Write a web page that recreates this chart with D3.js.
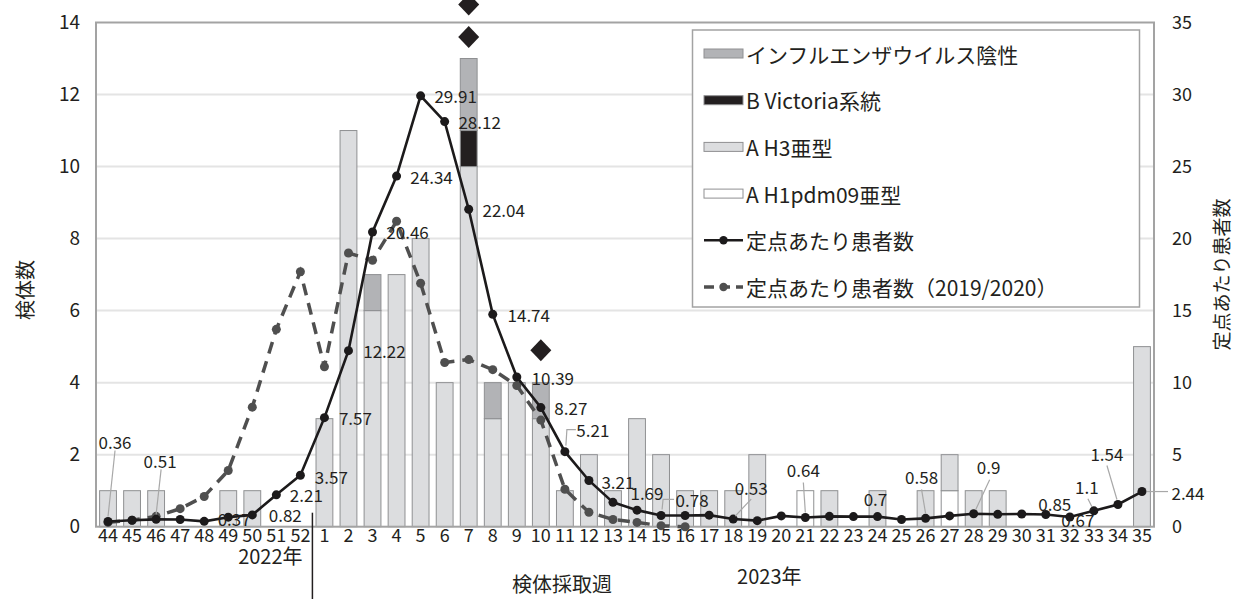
<!DOCTYPE html>
<html><head><meta charset="utf-8">
<script src="https://cdn.jsdelivr.net/npm/d3@7"></script>
<style>
body{margin:0;background:#fff}
svg{display:block}
text{font-family:"Noto Sans CJK JP","Noto Sans",sans-serif;fill:#231f20}
</style>
</head><body>
<svg id="chart" width="1234" height="599"></svg>
<script>
// ---------- data ----------
const weeks = ["44","45","46","47","48","49","50","51","52",
  "1","2","3","4","5","6","7","8","9","10","11","12","13","14","15","16","17","18","19","20",
  "21","22","23","24","25","26","27","28","29","30","31","32","33","34","35"];
const h1pdm09 = [0,0,0,0,0,0,0,0,0,
  0,0,0,0,0,0,0,0,0,0,0,0,0,0,0,0,0,0,0,0,1,0,0,0,0,0,1,0,0,0,0,0,0,0,0];
const h3 = [1,1,1,0,0,1,1,0,0,
  3,11,6,7,8,4,10,3,4,3,1,2,1,3,2,1,1,1,2,0,0,1,0,1,0,1,1,1,1,0,0,0,0,0,5];
const bVictoria = [0,0,0,0,0,0,0,0,0,
  0,0,0,0,0,0,1,0,0,0,0,0,0,0,0,0,0,0,0,0,0,0,0,0,0,0,0,0,0,0,0,0,0,0,0];
const negative = [0,0,0,0,0,0,0,0,0,
  0,0,1,0,0,0,2,1,0,1,0,0,0,0,0,0,0,0,0,0,0,0,0,0,0,0,0,0,0,0,0,0,0,0,0];
const perSite = [0.36,0.45,0.51,0.5,0.37,0.66,0.82,2.21,3.57,
  7.57,12.22,20.46,24.34,29.91,28.12,22.04,14.74,10.39,8.27,5.21,3.21,1.69,1.15,0.78,0.78,0.8,
  0.53,0.42,0.75,0.64,0.72,0.7,0.7,0.5,0.58,0.75,0.9,0.86,0.88,0.85,0.67,1.1,1.54,2.44];
const perSite2019 = [0.3,0.45,0.72,1.25,2.1,3.9,8.3,13.7,17.7,
  11.1,19.0,18.5,21.2,16.9,11.4,11.6,10.9,9.8,7.4,2.6,1.0,0.5,0.3,0.07,0.0,
  null,null,null,null,null,null,null,null,null,null,null,null,null,null,null,null,null,null,null];
const leftTicks = [0,2,4,6,8,10,12,14];
const rightTicks = [0,5,10,15,20,25,30,35];
const diamondWeeks = ["7","7","10"];
const diamondValues = [14.5,13.6,4.9];
const labelWeeks = ["44","46","48","50","51","52","1","2","3","4","5","6","7","8","9","10","11","12","13","15","18","21","24","26","28","31","32","33","34","35"];
const seriesNames = ["インフルエンザウイルス陰性","B Victoria系統","A H3亜型","A H1pdm09亜型","定点あたり患者数","定点あたり患者数（2019/2020）"];

// ---------- label layout (pixel offsets from each point) ----------
const labelLayout = {
  "44":{dx:7,dy:-80,lead:[[7,-71],[0,-5]]},
  "46":{dx:4,dy:-59,lead:[[5,-50],[0,-5]]},
  "48":{dx:30,dy:-3},
  "50":{dx:33,dy:0},
  "51":{dx:30,dy:0},
  "52":{dx:31,dy:1},
  "1":{dx:31,dy:0},
  "2":{dx:36,dy:0},
  "3":{dx:35,dy:0},
  "4":{dx:35,dy:0},
  "5":{dx:35,dy:0},
  "6":{dx:35,dy:0},
  "7":{dx:35,dy:0},
  "8":{dx:36,dy:0},
  "9":{dx:36,dy:0},
  "10":{dx:30,dy:0},
  "11":{dx:28,dy:-22,lead:[[11,-22],[2,-22],[1,-6]]},
  "12":{dx:29,dy:1},
  "13":{dx:34,dy:-10},
  "15":{dx:31,dy:-16,lead:[[13,-16],[2,-16],[1,-6]]},
  "18":{dx:18,dy:-32,lead:[[18,-20],[2,-3]]},
  "21":{dx:-2,dy:-48,lead:[[-2,-35],[0,-5]]},
  "24":{dx:-2,dy:-18},
  "26":{dx:-4,dy:-42,lead:[[-4,-29],[0,-5]]},
  "28":{dx:15,dy:-47,lead:[[16,-34],[2,-4]]},
  "31":{dx:9,dy:-11},
  "32":{dx:8,dy:2},
  "33":{dx:-7,dy:-24,lead:[[-6,-12],[-2,-4]]},
  "34":{dx:-11,dy:-51,lead:[[-11,-39],[-1,-5]]},
  "35":{dx:46,dy:1,lead:[[26,0],[5,0]]}
};

// ---------- layout ----------
const svg = d3.select("#chart");
const L = 96, R = 1154, T = 22.5, B = 526.7;
const x = d3.scaleBand().domain(weeks).range([L, R]).paddingInner(0.3).paddingOuter(0.15);
const yL = d3.scaleLinear().domain([0, 14]).range([B, T]);
const yR = d3.scaleLinear().domain([0, 35]).range([B, T]);
const cx = w => x(w) + x.bandwidth() / 2;

// gridlines
svg.append("g").selectAll("line").data(leftTicks.filter(d => d > 0 && d < 14)).join("line")
  .attr("x1", L).attr("x2", R).attr("y1", d => yL(d)).attr("y2", d => yL(d))
  .attr("stroke", "#e4e4e4").attr("stroke-width", 2);

// stacked bars
const rows = weeks.map((w, i) => ({week: w, h1: h1pdm09[i], h3: h3[i], bv: bVictoria[i], neg: negative[i]}));
const keys = ["h1", "h3", "bv", "neg"];
const fills = {h1: "#ffffff", h3: "#dcdddf", bv: "#231f20", neg: "#b2b3b6"};
const stack = d3.stack().keys(keys)(rows);
svg.append("g").selectAll("g").data(stack).join("g")
  .attr("fill", d => fills[d.key])
  .selectAll("rect").data(d => d.filter(p => p[1] - p[0] > 0)).join("rect")
  .attr("x", d => x(d.data.week)).attr("width", x.bandwidth())
  .attr("y", d => yL(d[1])).attr("height", d => yL(d[0]) - yL(d[1]))
  .attr("stroke", "#8f9092").attr("stroke-width", 1);

// frame
svg.append("rect").attr("x", L).attr("y", T).attr("width", R - L).attr("height", B - T)
  .attr("fill", "none").attr("stroke", "#a3a3a3").attr("stroke-width", 2);

// 2019/2020 dashed line
const pts2019 = weeks.map((w, i) => ({w, v: perSite2019[i]})).filter(d => d.v !== null);
svg.append("path").datum(pts2019)
  .attr("d", d3.line().x(d => cx(d.w)).y(d => yR(d.v)))
  .attr("fill", "none").attr("stroke", "#4f4f4f").attr("stroke-width", 3.5)
  .attr("stroke-dasharray", "12,8");
svg.append("g").selectAll("circle").data(pts2019).join("circle")
  .attr("cx", d => cx(d.w)).attr("cy", d => yR(d.v)).attr("r", 4.5).attr("fill", "#4f4f4f");

// current season line
const pts = weeks.map((w, i) => ({w, v: perSite[i]}));
svg.append("path").datum(pts)
  .attr("d", d3.line().x(d => cx(d.w)).y(d => yR(d.v)))
  .attr("fill", "none").attr("stroke", "#1c1a1b").attr("stroke-width", 2.6);
svg.append("g").selectAll("circle").data(pts).join("circle")
  .attr("cx", d => cx(d.w)).attr("cy", d => yR(d.v)).attr("r", 4.5).attr("fill", "#1c1a1b");

// data labels with leader lines
const labelData = labelWeeks.map(w => ({w, v: perSite[weeks.indexOf(w)], lay: labelLayout[w]}));
svg.append("g").selectAll("polyline").data(labelData.filter(d => d.lay.lead)).join("polyline")
  .attr("points", d => d.lay.lead.map(p => [cx(d.w) + p[0], yR(d.v) + p[1]].join(",")).join(" "))
  .attr("fill", "none").attr("stroke", "#a8a8a8").attr("stroke-width", 1.2);
svg.append("g").selectAll("text").data(labelData).join("text")
  .attr("x", d => cx(d.w) + d.lay.dx).attr("y", d => yR(d.v) + d.lay.dy)
  .attr("text-anchor", "middle").attr("dominant-baseline", "central")
  .attr("font-size", 17).text(d => String(d.v));

// diamonds
svg.append("g").selectAll("path").data(diamondWeeks.map((w, i) => ({w, v: diamondValues[i]}))).join("path")
  .attr("transform", d => `translate(${cx(d.w)},${yL(d.v)})`)
  .attr("d", "M0,-11L10.5,0L0,11L-10.5,0Z").attr("fill", "#231f20");

// axes
const axL = svg.append("g").attr("transform", `translate(${L},0)`)
  .call(d3.axisLeft(yL).tickValues(leftTicks).tickSize(0).tickPadding(16));
const axR = svg.append("g").attr("transform", `translate(${R},0)`)
  .call(d3.axisRight(yR).tickValues(rightTicks).tickSize(0).tickPadding(18));
const axB = svg.append("g").attr("transform", `translate(0,${B})`)
  .call(d3.axisBottom(x).tickSize(0).tickPadding(3));
[axL, axR, axB].forEach(a => {
  a.select(".domain").remove();
  a.selectAll("text").attr("font-family", '"Noto Sans CJK JP","Noto Sans",sans-serif').attr("fill", "#231f20");
});
axL.selectAll("text").attr("font-size", 19);
axR.selectAll("text").attr("font-size", 18);
axB.selectAll("text").attr("font-size", 18);

// year separator
const sepX = x("1") - (x.step() - x.bandwidth()) / 2;
svg.append("line").attr("x1", sepX).attr("x2", sepX).attr("y1", B - 14).attr("y2", 599)
  .attr("stroke", "#231f20").attr("stroke-width", 1.5);

// axis titles
svg.append("text").attr("x", cx("51") - 6).attr("y", 555).attr("text-anchor", "middle")
  .attr("dominant-baseline", "central").attr("font-size", 20).text("2022年");
svg.append("text").attr("x", cx("20") - 12).attr("y", 575).attr("text-anchor", "middle")
  .attr("dominant-baseline", "central").attr("font-size", 20).text("2023年");
svg.append("text").attr("x", 562).attr("y", 583).attr("text-anchor", "middle")
  .attr("dominant-baseline", "central").attr("font-size", 20).text("検体採取週");
svg.append("text").attr("transform", `translate(24,290) rotate(-90)`)
  .attr("text-anchor", "middle").attr("dominant-baseline", "central").attr("font-size", 20).text("検体数");
svg.append("text").attr("transform", `translate(1220,${(T + B) / 2}) rotate(-90)`)
  .attr("text-anchor", "middle").attr("dominant-baseline", "central").attr("font-size", 19).text("定点あたり患者数");

// legend
const lg = svg.append("g");
lg.append("rect").attr("x", 692.5).attr("y", 30).attr("width", 447).attr("height", 277)
  .attr("fill", "#fff").attr("stroke", "#a3a3a3").attr("stroke-width", 1.5);
const legendItems = [
  {name: seriesNames[0], type: "bar", fill: fills.neg},
  {name: seriesNames[1], type: "bar", fill: fills.bv},
  {name: seriesNames[2], type: "bar", fill: fills.h3},
  {name: seriesNames[3], type: "bar", fill: fills.h1},
  {name: seriesNames[4], type: "line", color: "#1c1a1b", dash: null},
  {name: seriesNames[5], type: "line", color: "#4f4f4f", dash: "10,6"}
];
const rowY = d3.scalePoint().domain(d3.range(legendItems.length)).range([53.5, 287]);
const li = lg.selectAll("g.it").data(legendItems).join("g").attr("class", "it")
  .attr("transform", (d, i) => `translate(704,${rowY(i)})`);
li.filter(d => d.type === "bar").append("rect")
  .attr("x", 0).attr("y", -4.5).attr("width", 39).attr("height", 9)
  .attr("fill", d => d.fill).attr("stroke", "#8f9092").attr("stroke-width", 1);
li.filter(d => d.type === "line").append("line")
  .attr("x1", 0).attr("x2", 39).attr("y1", 0).attr("y2", 0)
  .attr("stroke", d => d.color).attr("stroke-width", d => d.dash ? 3.5 : 2.6)
  .attr("stroke-dasharray", d => d.dash);
li.filter(d => d.type === "line").append("circle")
  .attr("cx", 19.5).attr("cy", 0).attr("r", 4.2).attr("fill", d => d.color);
li.append("text").attr("x", 42).attr("y", 0).attr("dominant-baseline", "central")
  .attr("font-size", 21).text(d => d.name);
</script>
</body></html>
